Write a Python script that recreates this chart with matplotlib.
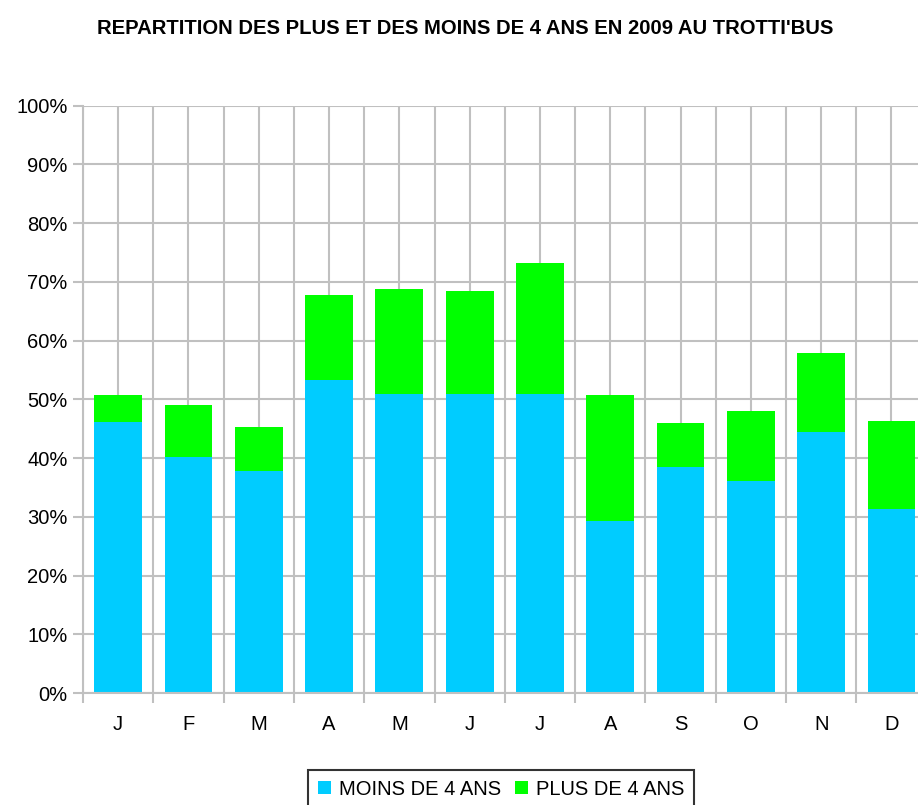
import numpy as np
import matplotlib
matplotlib.use("Agg")
import matplotlib.pyplot as plt
from matplotlib.ticker import PercentFormatter

months = ["J", "F", "M", "A", "M", "J", "J", "A", "S", "O", "N", "D"]
moins_4 = [46.2, 40.1, 37.8, 53.3, 50.9, 50.9, 50.9, 29.3, 38.5, 36.1, 44.5, 31.3]
total = [50.8, 49.1, 45.3, 67.8, 68.8, 68.5, 73.3, 50.8, 46.0, 48.0, 57.9, 46.3]
plus_4 = [t - m for t, m in zip(total, moins_4)]
yticks = list(range(0, 101, 10))

plt.rcParams['font.family'] = ['Liberation Sans', 'DejaVu Sans']

W, H = 918, 805
fig = plt.figure(figsize=(W / 100, H / 100), dpi=100)
left = 83 / W
bottom = 1 - 693 / H
top = 1 - 105.7 / H
right = 926.6 / W
ax = fig.add_axes([left, bottom, right - left, top - bottom])

x = np.arange(len(months))
grid_c = "#c0c0c0"
b1 = ax.bar(x, moins_4, width=0.68, color="#00CCFF", label="MOINS DE 4 ANS", zorder=3)
b2 = ax.bar(x, plus_4, bottom=moins_4, width=0.68, color="#00FF00", label="PLUS DE 4 ANS", zorder=3)

ax.set_xlim(-0.5, 11.5)
ax.set_ylim(0, 100)
ax.set_yticks(yticks)
ax.yaxis.set_major_formatter(PercentFormatter(decimals=0))
ax.set_xticks(x)
ax.set_xticklabels(months)
ax.set_xticks(np.arange(-0.5, 12, 1), minor=True)

ax.grid(True, which="both", axis="x", color=grid_c, lw=1.5, zorder=0)
ax.grid(True, which="major", axis="y", color=grid_c, lw=1.5, zorder=0)

for s in ["top", "right"]:
    ax.spines[s].set_visible(False)
for s in ["left", "bottom"]:
    ax.spines[s].set_color(grid_c)
    ax.spines[s].set_linewidth(1.5)
    ax.spines[s].set_zorder(4)

ax.tick_params(axis="y", which="major", length=7, width=1.5, color=grid_c,
               labelsize=14.5, pad=4, labelcolor="black")
ax.tick_params(axis="x", which="major", length=0, labelsize=14.5, pad=16, labelcolor="black")
ax.tick_params(axis="x", which="minor", length=7, width=1.5, color=grid_c)

fig.text(465 / W, 1 - 28 / H, "REPARTITION DES PLUS ET DES MOINS DE 4 ANS EN 2009 AU TROTTI'BUS",
         ha="center", va="center", fontsize=14.6, fontweight="bold")

leg = fig.legend(handles=[b1, b2], loc="center", bbox_to_anchor=(501 / W, 1 - 789 / H),
                 ncol=2, frameon=True, fancybox=False, fontsize=14.5,
                 handlelength=0.65, handleheight=0.65, handletextpad=0.4,
                 columnspacing=0.7, borderpad=0.45, borderaxespad=0)
leg.get_frame().set_edgecolor("black")
leg.get_frame().set_linewidth(1.5)

fig.savefig("out.png", dpi=100)
